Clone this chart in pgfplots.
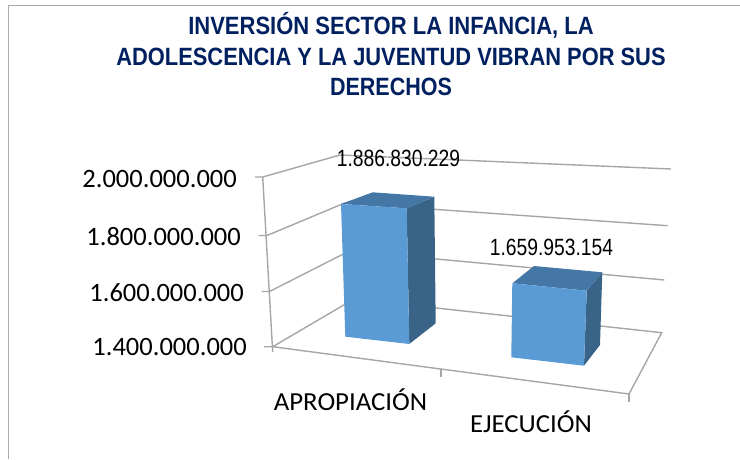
\documentclass[border=0pt]{standalone}
\usepackage{pgfplots}
\pgfplotsset{compat=1.18}
\usepackage{fontspec}
\setmainfont{Liberation Sans}
\newfontfamily\calfont{Carlito}
\definecolor{titleblue}{HTML}{002060}
\definecolor{front}{HTML}{5B9BD5}
\definecolor{topf}{HTML}{4477A6}
\definecolor{sidef}{HTML}{3A6487}
\definecolor{gridc}{HTML}{A6A6A6}
\definecolor{framec}{HTML}{ABABAB}
\begin{document}
\begin{tikzpicture}[x=1pt,y=1pt]
\path[use as bounding box] (0,0) rectangle (740pt,459pt);
\begin{axis}[at={(0,0)},anchor=south west,scale only axis,width=740pt,height=459pt,
  xmin=0,xmax=740,ymin=0,ymax=459,y dir=reverse,hide axis,clip=false,
  grid line/.style={draw=gridc,line width=1.4pt},
  every axis plot/.append style={no marks}]
% chart frame
\addplot[draw=framec,line width=1.5pt] coordinates {(8.5,459) (8.5,5.5) (740,5.5)};
% gridlines and walls
\addplot[grid line] coordinates {(255,177) (262.7,177) (340,155) (671,169)};
\addplot[grid line] coordinates {(258.5,235.5) (267,235.5) (344.7,203) (667.7,225.7)};
\addplot[grid line] coordinates {(261.5,291.5) (269.5,291.5) (349.3,251) (664.3,280)};
\addplot[grid line] coordinates {(264,346.7) (272.7,346.7) (354,299) (661.7,332.7) (629,394) (272.7,346.7)};
\addplot[grid line] coordinates {(262.7,177) (272.7,352)};
\addplot[grid line] coordinates {(441,369) (441,377)};
\addplot[grid line] coordinates {(629,394) (629,402)};
% APROPIACION 1.886.830.229
\addplot[fill=sidef,draw=none] coordinates {(406.7,208.3) (434.3,196.7) (435.7,323.3) (409.3,344)} --cycle;
\addplot[fill=topf,draw=none] coordinates {(341,204) (372.7,192.3) (434.3,196.7) (406.7,208.3)} --cycle;
\addplot[fill=front,draw=none] coordinates {(341,204) (406.7,208.3) (409.3,344) (345.3,336.7)} --cycle;
% EJECUCION 1.659.953.154
\addplot[fill=sidef,draw=none] coordinates {(586.7,290.7) (602.3,272.3) (600,345) (584,365.7)} --cycle;
\addplot[fill=topf,draw=none] coordinates {(512.3,283.3) (534,266) (602.3,272.3) (586.7,290.7)} --cycle;
\addplot[fill=front,draw=none] coordinates {(512.3,283.3) (586.7,290.7) (584,365.7) (511.3,357.3)} --cycle;
% title
\node[anchor=base,inner sep=0pt,text=titleblue,font=\fontsize{25}{25}\selectfont\bfseries] at (391,34) {\scalebox{0.88}[1]{INVERSIÓN SECTOR LA INFANCIA, LA}};
\node[anchor=base,inner sep=0pt,text=titleblue,font=\fontsize{25}{25}\selectfont\bfseries] at (391,65) {\scalebox{0.875}[1]{ADOLESCENCIA Y LA JUVENTUD VIBRAN POR SUS}};
\node[anchor=base,inner sep=0pt,text=titleblue,font=\fontsize{25}{25}\selectfont\bfseries] at (391,95) {\scalebox{0.86}[1]{DERECHOS}};
% tick labels
\node[anchor=base east,inner sep=0pt,font=\calfont\fontsize{26.5}{26}\selectfont] at (237,187) {2.000.000.000};
\node[anchor=base east,inner sep=0pt,font=\calfont\fontsize{26.5}{26}\selectfont] at (241,245) {1.800.000.000};
\node[anchor=base east,inner sep=0pt,font=\calfont\fontsize{26.5}{26}\selectfont] at (244,301) {1.600.000.000};
\node[anchor=base east,inner sep=0pt,font=\calfont\fontsize{26.5}{26}\selectfont] at (247,355.5) {1.400.000.000};
% category labels
\node[font=\calfont\fontsize{26}{26}\selectfont] at (350.5,399.5) {\scalebox{1.03}[1]{APROPIACIÓN}};
\node[font=\calfont\fontsize{26}{26}\selectfont] at (531,422) {\scalebox{1.03}[1]{EJECUCIÓN}};
% data labels
\node[font=\fontsize{23.5}{24}\selectfont] at (398.5,158) {\scalebox{0.82}[1]{1.886.830.229}};
\node[font=\fontsize{23.5}{24}\selectfont] at (551.5,247) {\scalebox{0.82}[1]{1.659.953.154}};
\end{axis}
\end{tikzpicture}
\end{document}
